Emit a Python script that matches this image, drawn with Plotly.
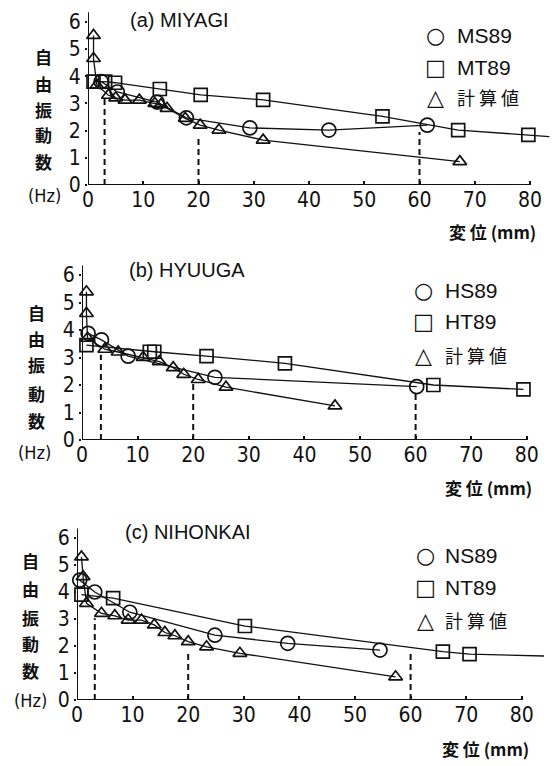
import plotly.graph_objects as go

W, H = 559, 766
OFF = 8  # page body margin
FW, FH = W - OFF, H - OFF

# ---------------- data ----------------
x_ticks = [0, 10, 20, 30, 40, 50, 60, 70, 80]
y_ticks = [0, 1, 2, 3, 4, 5, 6]

# (a) MIYAGI
a_title = "(a) MIYAGI"
a_names = ["MS89", "MT89", "計 算 値"]
a_s_x = [2.4, 5.3, 12.5, 17.8, 29.3, 43.6, 61.4]
a_s_y = [3.80, 3.42, 3.05, 2.47, 2.10, 2.02, 2.20]
a_t_x = [1.0, 3.1, 4.9, 13.0, 20.4, 31.7, 53.3, 67.0, 79.7]
a_t_y = [3.80, 3.80, 3.76, 3.53, 3.31, 3.13, 2.52, 2.02, 1.84]
a_t_tail_x = [83.5]
a_t_tail_y = [1.78]
a_c_x = [1.0, 1.0, 1.6, 3.7, 5.0, 6.7, 9.3, 12.1, 13.2, 14.3, 17.6, 20.3, 23.7, 31.7, 67.3]
a_c_y = [5.50, 4.65, 3.67, 3.30, 3.20, 3.12, 3.12, 3.00, 2.95, 2.82, 2.45, 2.20, 2.02, 1.65, 0.86]
a_dash_x = [3.0, 20.0, 60.0]
a_dash_top = [3.25, 1.80, 1.95]

# (b) HYUUGA
b_title = "(b) HYUUGA"
b_names = ["HS89", "HT89", "計 算 値"]
b_s_x = [1.1, 3.5, 8.3, 23.9, 60.2]
b_s_y = [3.88, 3.64, 3.05, 2.28, 1.94]
b_t_x = [0.8, 12.2, 13.0, 22.4, 36.5, 63.2, 79.4]
b_t_y = [3.45, 3.21, 3.21, 3.05, 2.79, 2.00, 1.84]
b_t_tail_x = []
b_t_tail_y = []
b_c_x = [0.8, 0.8, 1.0, 4.1, 6.5, 11.0, 13.9, 16.4, 18.3, 20.9, 25.9, 45.5]
b_c_y = [5.39, 4.60, 3.70, 3.30, 3.20, 3.00, 2.85, 2.63, 2.39, 2.20, 1.92, 1.24]
b_dash_x = [3.4, 20.0, 60.0]
b_dash_top = [3.10, 2.07, 1.76]

# (c) NIHONKAI
c_title = "(c) NIHONKAI"
c_names = ["NS89", "NT89", "計 算 値"]
c_s_x = [0.5, 3.2, 9.5, 24.8, 37.9, 54.5]
c_s_y = [4.44, 4.00, 3.25, 2.40, 2.10, 1.85]
c_t_x = [0.8, 6.5, 30.2, 65.8, 70.6]
c_t_y = [3.90, 3.77, 2.74, 1.79, 1.70]
c_t_tail_x = [84.0]
c_t_tail_y = [1.63]
c_c_x = [0.8, 1.1, 1.7, 4.4, 6.8, 9.2, 11.6, 13.9, 15.8, 17.6, 20.0, 23.3, 29.3, 57.3]
c_c_y = [5.30, 4.57, 3.58, 3.21, 3.12, 2.96, 2.96, 2.78, 2.50, 2.38, 2.16, 1.97, 1.73, 0.86]
c_dash_x = [3.2, 20.0, 60.0]
c_dash_top = [3.03, 1.70, 1.85]

y_label_chars = ["自", "由", "振", "動", "数"]
x_title_main = "変 位"
x_title_unit = "(mm)"

# ---------------- layout helpers ----------------
XMAX, YMAX = 84, 6.4
panels = [
    dict(x0=88, kx=5.525, y0=185, ky=27.2,
         title_px=(128, 20), leg_sym_x=436, leg_txt_x=455, leg_rows=[35, 67, 97],
         ylab_x=43, ylab_rows=[57, 83, 109, 135, 162], hz=(44, 196), xt=(447, 232)),
    dict(x0=82, kx=5.56, y0=440, ky=27.5,
         title_px=(127, 270), leg_sym_x=423, leg_txt_x=443, leg_rows=[290, 322, 355],
         ylab_x=36, ylab_rows=[312, 338, 365, 393, 420], hz=(34, 452), xt=(443, 487)),
    dict(x0=77, kx=5.56, y0=700, ky=27.0,
         title_px=(123, 532), leg_sym_x=425, leg_txt_x=443, leg_rows=[555, 587, 620],
         ylab_x=30, ylab_rows=[560, 588, 617, 643, 670], hz=(30, 700), xt=(440, 748)),
]
datasets = [
    (a_title, a_names, a_s_x, a_s_y, a_t_x, a_t_y, a_t_tail_x, a_t_tail_y, a_c_x, a_c_y, a_dash_x, a_dash_top),
    (b_title, b_names, b_s_x, b_s_y, b_t_x, b_t_y, b_t_tail_x, b_t_tail_y, b_c_x, b_c_y, b_dash_x, b_dash_top),
    (c_title, c_names, c_s_x, c_s_y, c_t_x, c_t_y, c_t_tail_x, c_t_tail_y, c_c_x, c_c_y, c_dash_x, c_dash_top),
]

def px(x):
    return (x - OFF) / FW

def py(y):
    return 1 - (y - OFF) / FH

NUM_FONT = "DejaVu Sans Condensed, Liberation Sans Narrow, Liberation Sans, sans-serif"
TXT_FONT = "Liberation Sans, Arial, sans-serif"
CJK_FONT = "Noto Sans CJK JP, sans-serif"
BLACK = "#111"

fig = go.Figure()
annotations = []
shapes = []

for i, (p, d) in enumerate(zip(panels, datasets)):
    title, names, sx, sy, tx, ty, ttx, tty, cx, cy, dx, dtop = d
    sfx = "" if i == 0 else str(i + 1)
    xa, ya = "x" + sfx, "y" + sfx

    fig.add_trace(go.Scatter(x=tx + ttx, y=ty + tty, mode="lines", xaxis=xa, yaxis=ya,
                             line=dict(color=BLACK, width=1.3), showlegend=False, hoverinfo="skip"))
    fig.add_trace(go.Scatter(x=tx, y=ty, mode="markers", xaxis=xa, yaxis=ya, name=names[1],
                             marker=dict(symbol="square-open", size=13, color=BLACK, line=dict(width=1.7)),
                             showlegend=False, cliponaxis=False))
    fig.add_trace(go.Scatter(x=sx, y=sy, mode="lines+markers", xaxis=xa, yaxis=ya, name=names[0],
                             line=dict(color=BLACK, width=1.3),
                             marker=dict(symbol="circle-open", size=14, color=BLACK, line=dict(width=1.7)),
                             showlegend=False, cliponaxis=False))
    fig.add_trace(go.Scatter(x=cx, y=cy, mode="lines+markers", xaxis=xa, yaxis=ya, name=names[2],
                             line=dict(color=BLACK, width=1.3),
                             marker=dict(symbol="triangle-up-open", size=12, color=BLACK, line=dict(width=1.7)),
                             showlegend=False, cliponaxis=False))
    dxs, dys = [], []
    for xv, top in zip(dx, dtop):
        dxs += [xv, xv, None]
        dys += [0, top, None]
    fig.add_trace(go.Scatter(x=dxs, y=dys, mode="lines", xaxis=xa, yaxis=ya,
                             line=dict(color=BLACK, width=2, dash="6px,4px"),
                             showlegend=False, hoverinfo="skip"))

    xd = [px(p["x0"]), px(p["x0"] + XMAX * p["kx"])]
    yd = [py(p["y0"]), py(p["y0"] - YMAX * p["ky"])]
    fig.layout["xaxis" + sfx] = dict(
        domain=xd, range=[0, XMAX], anchor=ya, tickvals=x_ticks, ticktext=[str(v) for v in x_ticks],
        showgrid=False, zeroline=False, showline=False, ticks="inside", ticklen=4, tickwidth=1.5,
        tickcolor=BLACK, tickfont=dict(family=NUM_FONT, size=21, color=BLACK), automargin=False)
    fig.layout["yaxis" + sfx] = dict(
        domain=yd, range=[0, YMAX], anchor=xa, tickvals=y_ticks, ticktext=[str(v) for v in y_ticks],
        showgrid=False, zeroline=False, showline=False, ticks="outside", ticklen=2, tickwidth=1.5,
        tickcolor=BLACK, tickfont=dict(family=NUM_FONT, size=21, color=BLACK), automargin=False)

    shapes.append(dict(type="line", xref=xa, yref=ya, x0=0, y0=0, x1=80, y1=0,
                       line=dict(color=BLACK, width=2)))
    shapes.append(dict(type="line", xref=xa, yref=ya, x0=0, y0=0, x1=0, y1=YMAX - 0.05,
                       line=dict(color=BLACK, width=2)))

    annotations.append(dict(text=title, xref="paper", yref="paper", x=px(p["title_px"][0]),
                            y=py(p["title_px"][1]), xanchor="left", yanchor="middle", showarrow=False,
                            font=dict(family=TXT_FONT, size=20, color=BLACK)))
    syms = ["○", "□", "△"]
    for k in range(3):
        annotations.append(dict(text=syms[k], xref="paper", yref="paper", x=px(p["leg_sym_x"]),
                                y=py(p["leg_rows"][k]), xanchor="center", yanchor="middle", showarrow=False,
                                font=dict(family="DejaVu Sans, sans-serif", size=22, color=BLACK)))
        fnt = dict(family=CJK_FONT, size=18, color=BLACK) if k == 2 else \
            dict(family=TXT_FONT, size=21, color=BLACK)
        annotations.append(dict(text=names[k], xref="paper", yref="paper", x=px(p["leg_txt_x"]),
                                y=py(p["leg_rows"][k]), xanchor="left", yanchor="middle", showarrow=False,
                                font=fnt))
    for ch, yy in zip(y_label_chars, p["ylab_rows"]):
        annotations.append(dict(text="<b>" + ch + "</b>", xref="paper", yref="paper", x=px(p["ylab_x"]),
                                y=py(yy), xanchor="center", yanchor="middle", showarrow=False,
                                font=dict(family=CJK_FONT, size=17, color=BLACK)))
    annotations.append(dict(text="(Hz)", xref="paper", yref="paper", x=px(p["hz"][0]), y=py(p["hz"][1]),
                            xanchor="center", yanchor="middle", showarrow=False,
                            font=dict(family=NUM_FONT, size=18, color=BLACK)))
    annotations.append(dict(text="<b>" + x_title_main + "</b> <b>" + x_title_unit + "</b>",
                            xref="paper", yref="paper", x=px(p["xt"][0]), y=py(p["xt"][1]),
                            xanchor="left", yanchor="middle", showarrow=False,
                            font=dict(family=CJK_FONT, size=17, color=BLACK)))

fig.update_layout(width=FW, height=FH, margin=dict(l=0, r=0, t=0, b=0),
                  paper_bgcolor="white", plot_bgcolor="white",
                  annotations=annotations, shapes=shapes, showlegend=False)

fig.write_html("out.html")
